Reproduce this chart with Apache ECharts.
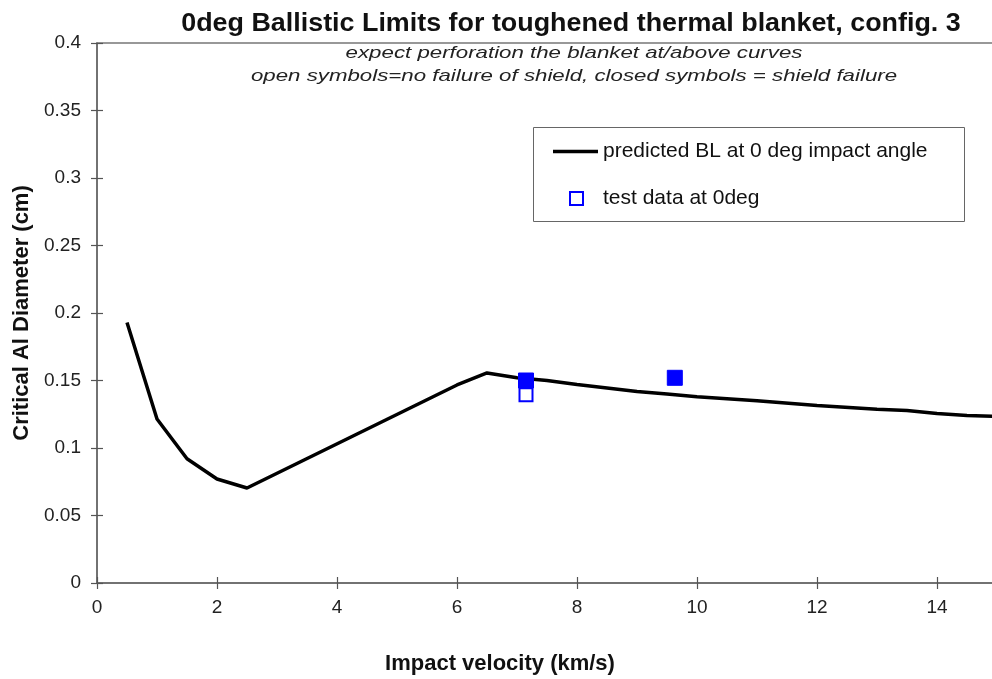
<!DOCTYPE html>
<html>
<head>
<meta charset="utf-8">
<script src="https://cdn.jsdelivr.net/npm/echarts@6/dist/echarts.min.js"></script>
<style>html,body{margin:0;padding:0;background:#fff}#c{width:992px;height:679px}</style>
</head>
<body>
<div id="c"></div>
<script>
const curveX = [0.5, 1, 1.5, 2, 2.5, 6, 6.5, 7, 7.5, 8, 8.5, 9, 9.5, 10, 11, 12, 13, 13.5, 14, 14.5, 15];
const curveY = [0.193, 0.1215, 0.092, 0.077, 0.0704, 0.1467, 0.1556, 0.152, 0.150, 0.147, 0.1445, 0.1418, 0.140, 0.138, 0.135, 0.1315, 0.1287, 0.1278, 0.1255, 0.124, 0.1235];
const failX = [7.15, 9.63];
const failY = [0.150, 0.152];
const passX = [7.15];
const passY = [0.1395];
const xTicks = {min: 0, max: 15, interval: 2};
const yTicks = {min: 0, max: 0.4, interval: 0.05};
const titleText = '0deg Ballistic Limits for toughened thermal blanket, config. 3';
const subLines = ['expect perforation the blanket at/above curves', 'open symbols=no failure of shield, closed symbols = shield failure'];
const lineName = 'predicted BL at 0 deg impact angle';
const dataName = 'test data at 0deg';

const FONT = '"Liberation Sans", Arial, sans-serif';
const chart = echarts.init(document.getElementById('c'), null, {renderer: 'canvas'});
const tickStyle = {color: '#555', width: 1.2};
chart.setOption({
  animation: false,
  backgroundColor: '#fff',
  grid: {left: 97, top: 43, width: 900, height: 540, outerBoundsMode: 'none', containLabel: false,
         show: true, borderColor: '#777', borderWidth: 1.5, backgroundColor: 'transparent'},
  graphic: [
    {type: 'text', x: 571, y: 12, scaleX: 1.075, style: {text: titleText, textAlign: 'center', textVerticalAlign: 'top', font: 'bold 25px ' + FONT, fill: '#111'}},
    {type: 'text', x: 574, y: 53, scaleX: 1.31, style: {text: subLines[0], textAlign: 'center', textVerticalAlign: 'middle', font: 'italic 17px ' + FONT, fill: '#222'}},
    {type: 'text', x: 574, y: 76, scaleX: 1.31, style: {text: subLines[1], textAlign: 'center', textVerticalAlign: 'middle', font: 'italic 17px ' + FONT, fill: '#222'}},
    {type: 'rect', z: 3, shape: {x: 533.5, y: 127.5, width: 431, height: 94}, style: {fill: '#fff', stroke: '#666', lineWidth: 1}}
  ],
  legend: [
    {
      left: 553, top: 141, orient: 'horizontal', padding: 0, z: 5,
      itemWidth: 45, itemHeight: 14,
      textStyle: {fontFamily: FONT, fontSize: 21, color: '#111'},
      data: [{name: lineName, icon: 'path://M0,0 L45,0 L45,3.5 L0,3.5 Z'}]
    },
    {
      left: 569, top: 188, orient: 'horizontal', padding: 0, z: 5,
      itemWidth: 13, itemHeight: 13,
      textStyle: {fontFamily: FONT, fontSize: 21, color: '#111', padding: [0, 0, 0, 15]},
      data: [{name: dataName, icon: 'rect'}]
    }
  ],
  xAxis: [
    {
      type: 'value', min: xTicks.min, max: xTicks.max, interval: xTicks.interval,
      name: 'Impact velocity (km/s)', nameLocation: 'middle', nameGap: 70,
      nameTextStyle: {fontFamily: FONT, fontSize: 22, fontWeight: 'bold', color: '#111', padding: [0, 94, 0, 0]},
      axisLine: {show: true, lineStyle: {color: '#666', width: 1.5}},
      splitLine: {show: false},
      axisTick: {show: true, length: 6, lineStyle: tickStyle},
      axisLabel: {fontFamily: FONT, fontSize: 19, color: '#222', margin: 15, showMaxLabel: false}
    },
    {
      type: 'value', min: xTicks.min, max: xTicks.max, interval: xTicks.interval, position: 'bottom', gridIndex: 0,
      axisLine: {show: false}, splitLine: {show: false}, axisLabel: {show: false},
      axisTick: {show: true, inside: true, length: 6, lineStyle: tickStyle}
    }
  ],
  yAxis: [
    {
      type: 'value', min: yTicks.min, max: yTicks.max, interval: yTicks.interval,
      name: 'Critical Al Diameter (cm)', nameLocation: 'middle', nameGap: 62, nameRotate: 90,
      nameTextStyle: {fontFamily: FONT, fontSize: 22, fontWeight: 'bold', color: '#111'},
      axisLine: {show: true, lineStyle: {color: '#666', width: 1.5}},
      splitLine: {show: false},
      axisTick: {show: true, length: 6, lineStyle: tickStyle},
      axisLabel: {fontFamily: FONT, fontSize: 19, color: '#222', margin: 16}
    },
    {
      type: 'value', min: yTicks.min, max: yTicks.max, interval: yTicks.interval, position: 'left', gridIndex: 0,
      axisLine: {show: false}, splitLine: {show: false}, axisLabel: {show: false},
      axisTick: {show: true, inside: true, length: 6, lineStyle: tickStyle}
    }
  ],
  series: [
    {
      name: lineName, type: 'line',
      data: curveX.map((x, i) => [x, curveY[i]]),
      showSymbol: false, symbol: 'none',
      lineStyle: {color: '#000', width: 3.5}, itemStyle: {color: '#000'}, z: 3
    },
    {
      name: dataName, type: 'scatter',
      data: passX.map((x, i) => [x, passY[i]]),
      symbol: 'rect', symbolSize: 13,
      itemStyle: {color: '#fff', borderColor: '#0000ff', borderWidth: 2, opacity: 1}, z: 4
    },
    {
      name: 'failure', type: 'scatter',
      data: failX.map((x, i) => [x, failY[i]]),
      symbol: 'rect', symbolSize: 15,
      itemStyle: {color: '#0000ff', borderColor: '#0000ff', borderWidth: 1, opacity: 1}, z: 5
    }
  ]
});
</script>
</body>
</html>
